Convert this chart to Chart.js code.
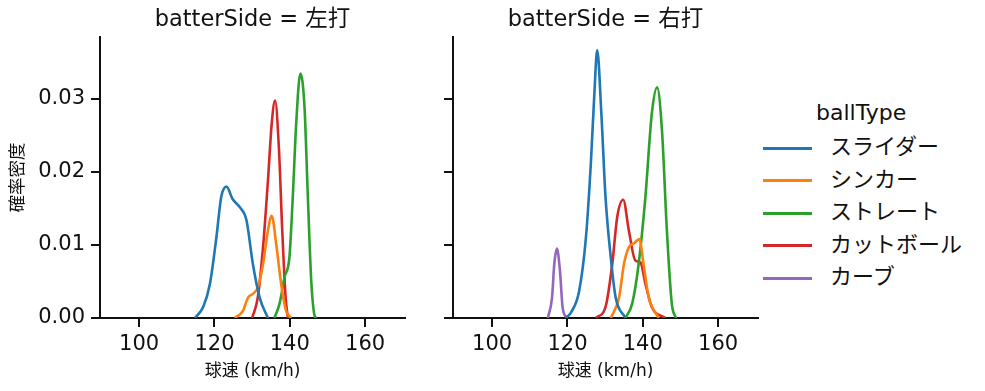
<!DOCTYPE html>
<html>
<head>
<meta charset="utf-8">
<script src="https://cdn.jsdelivr.net/npm/chart.js@4.4.1/dist/chart.umd.min.js"></script>
<style>
  body { margin: 0; background: #fff; width: 985px; height: 391px; position: relative; overflow: hidden; }
  canvas { position: absolute; top: 0; }
  #left { left: 0; }
  #right { left: 420px; }
  .legend { position: absolute; left: 763px; top: 100px; font-family: "DejaVu Sans", "Noto Sans CJK JP", sans-serif; color: #111; }
  .legend .ttl { font-size: 22px; position: absolute; left: 53px; top: 0; white-space: nowrap; line-height: 26px; }
  .legend .row { position: absolute; left: 0; white-space: nowrap; font-size: 22px; line-height: 26px; }
  .legend .sw { display: inline-block; width: 49px; height: 3px; vertical-align: middle; margin-right: 18px; }
</style>
</head>
<body>
<canvas id="left" width="420" height="391"></canvas>
<canvas id="right" width="340" height="391"></canvas>
<div class="legend" id="legend"></div>
<script>
const ballTypes = ['スライダー', 'シンカー', 'ストレート', 'カットボール', 'カーブ'];
const colors = ['#1f77b4', '#ff7f0e', '#2ca02c', '#d62728', '#9467bd'];
const xTicks = [100, 120, 140, 160];
const yTicks = [0, 0.01, 0.02, 0.03];

// 左打 (km/h, density)
const leftSpeed = {
  'スライダー': [114.8, 117, 118.8, 120.5, 121.8, 123.2, 124.8, 126.7, 128.5, 130.2, 132, 134.2],
  'シンカー': [125.4, 127.6, 128.9, 130.2, 131.5, 132.9, 134.2, 135.2, 136.4, 137.7, 139, 140.4],
  'ストレート': [135.9, 137.3, 138.6, 139.9, 140.8, 141.7, 142.8, 143.9, 144.8, 145.7, 146.5, 147],
  'カットボール': [130, 131.5, 132.9, 134.2, 135.2, 136.1, 137.1, 138, 138.9, 139.5]
};
const leftDensity = {
  'スライダー': [0, 0.0015, 0.0047, 0.011, 0.0166, 0.018, 0.0163, 0.0152, 0.0134, 0.0074, 0.0028, 0],
  'シンカー': [0, 0.001, 0.0028, 0.0033, 0.0042, 0.0074, 0.012, 0.014, 0.0101, 0.0047, 0.001, 0],
  'ストレート': [0, 0.002, 0.0056, 0.0083, 0.0166, 0.0266, 0.0335, 0.029, 0.0166, 0.0051, 0.0005, 0],
  'カットボール': [0, 0.0028, 0.0097, 0.0188, 0.0266, 0.0298, 0.0234, 0.012, 0.0028, 0]
};

// 右打
const rightSpeed = {
  'スライダー': [119.6, 121, 123.1, 124.9, 126.2, 127.1, 127.9, 129, 130.1, 131.5, 132.8, 135.4],
  'シンカー': [131.5, 133.7, 135, 136.3, 137.6, 139.1, 140.2, 141.6, 144.2],
  'ストレート': [135.4, 137.2, 138.9, 140.7, 142.4, 143.8, 145.1, 146.4, 147.7, 148.8],
  'カットボール': [127.5, 130.1, 131.9, 133.2, 134.8, 136.3, 138, 139.4, 140.7, 142.4, 146],
  'カーブ': [114.8, 115.9, 116.5, 117.2, 118, 118.7, 119.8]
};
const rightDensity = {
  'スライダー': [0, 0.0008, 0.0037, 0.011, 0.0211, 0.0303, 0.0367, 0.028, 0.0166, 0.0083, 0.0028, 0],
  'シンカー': [0, 0.0028, 0.0074, 0.0097, 0.0102, 0.0108, 0.0074, 0.0028, 0],
  'ストレート': [0, 0.002, 0.0074, 0.0166, 0.028, 0.0316, 0.0257, 0.012, 0.002, 0],
  'カットボール': [0, 0.0015, 0.0074, 0.0138, 0.0162, 0.012, 0.0079, 0.0076, 0.0047, 0.0015, 0],
  'カーブ': [0, 0.0028, 0.0074, 0.0095, 0.0065, 0.0015, 0]
};

const font = '"DejaVu Sans", "Noto Sans CJK JP", sans-serif';

const makeDatasets = (speed, density) =>
  ballTypes.filter(t => speed[t]).map(t => ({
    label: t,
    data: speed[t].map((x, i) => ({ x: x, y: density[t][i] })),
    borderColor: colors[ballTypes.indexOf(t)],
    borderWidth: 2.6,
    pointRadius: 0,
    showLine: true,
    fill: false,
    cubicInterpolationMode: 'monotone'
  }));

const makeChart = (id, title, speed, density, showY) => {
  const ctx = document.getElementById(id).getContext('2d');
  return new Chart(ctx, {
    type: 'scatter',
    data: { datasets: makeDatasets(speed, density) },
    options: {
      animation: false,
      responsive: false,
      layout: { padding: { top: 37, right: showY ? 15 : 2, bottom: 0, left: 0 } },
      plugins: {
        legend: { display: false },
        tooltip: { enabled: false },
        title: { display: false }
      },
      scales: {
        x: {
          type: 'linear', min: 89.6, max: 170.6,
          afterBuildTicks: axis => { axis.ticks = xTicks.map(v => ({ value: v })); },
          afterFit: axis => { axis.height = 73; },
          grid: { drawOnChartArea: false, drawTicks: true, tickLength: 9, color: '#111', lineWidth: 2 },
          border: { display: true, color: '#111', width: 2 },
          ticks: { color: '#111', font: { family: font, size: 21 }, padding: 5, maxRotation: 0 },
          title: { display: true, text: '球速 (km/h)', color: '#111', font: { family: font, size: 17 }, padding: { top: 0, bottom: 9 } }
        },
        y: {
          min: 0, max: 0.0385,
          afterBuildTicks: axis => { axis.ticks = yTicks.map(v => ({ value: v })); },
          afterFit: axis => { axis.width = showY ? 100 : 33; },
          grid: { drawOnChartArea: false, drawTicks: true, tickLength: 9, color: '#111', lineWidth: 2 },
          border: { display: true, color: '#111', width: 2 },
          ticks: { display: showY, color: '#111', font: { family: font, size: 21 }, padding: 6, callback: v => v.toFixed(2) },
          title: { display: showY, text: '確率密度', color: '#111', font: { family: font, size: 17.5 }, padding: { top: 8 } }
        }
      }
    },
    plugins: [{
      id: 'panelTitle',
      afterDraw: chart => {
        const c = chart.ctx;
        const a = chart.chartArea;
        c.save();
        c.font = '22.5px ' + font;
        c.fillStyle = '#111';
        c.textAlign = 'center';
        c.textBaseline = 'middle';
        c.fillText(title, (a.left + a.right) / 2, 20);
        c.restore();
      }
    }]
  });
};

makeChart('left', 'batterSide = 左打', leftSpeed, leftDensity, true);
makeChart('right', 'batterSide = 右打', rightSpeed, rightDensity, false);

// legend
const legend = document.getElementById('legend');
legend.innerHTML = '<div class="ttl">ballType</div>' + ballTypes.map((t, i) =>
  `<div class="row" style="top:${34 + i * 32.5}px"><span class="sw" style="background:${colors[i]}"></span>${t}</div>`
).join('');
</script>
</body>
</html>
